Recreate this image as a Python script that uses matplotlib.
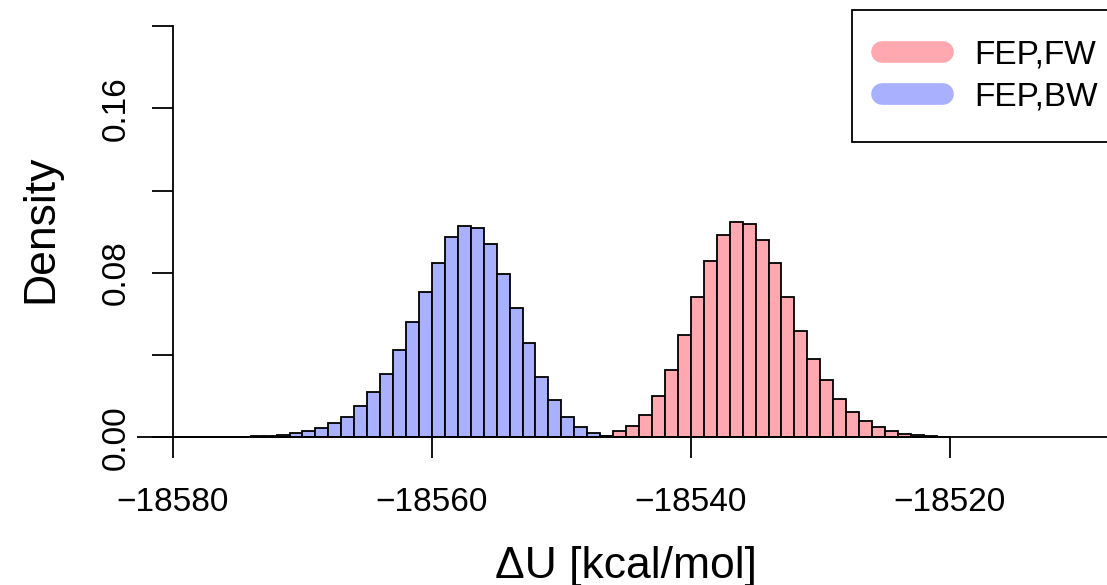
import matplotlib
matplotlib.use("Agg")
import matplotlib.pyplot as plt
from matplotlib.lines import Line2D
import numpy as np

# ---- data (histogram densities, bin width 1 kcal/mol, left bin edges) ----
bw_left = np.arange(-18575, -18545)  # 30 bins
bw_density = [0.0002, 0.0004, 0.0007, 0.0011, 0.0019, 0.0031,
              0.0047, 0.0068, 0.0100, 0.0151, 0.0220, 0.0309, 0.0426, 0.0561,
              0.0705, 0.0848, 0.0973, 0.1029, 0.1018, 0.0939, 0.0793, 0.0627,
              0.0457, 0.0292, 0.0181, 0.0100, 0.0050, 0.0020, 0.0008, 0.0003]

fw_left = np.arange(-18548, -18520)  # 28 bins
fw_density = [0.0003, 0.0008, 0.0032, 0.0056, 0.0110, 0.0201, 0.0326, 0.0496,
              0.0681, 0.0856, 0.0985, 0.1046, 0.1036, 0.0960, 0.0846, 0.0681,
              0.0517, 0.0381, 0.0277, 0.0186, 0.0122, 0.0079, 0.0049, 0.0029,
              0.0018, 0.0011, 0.0006, 0.0003]

labels = ["FEP,FW", "FEP,BW"]
x_ticks = [-18580, -18560, -18540, -18520]
y_ticks = [0.00, 0.04, 0.08, 0.12, 0.16, 0.20]
y_ticklabels = ["0.00", "", "0.08", "", "0.16", ""]

pink = "#FFA8B0"
blue = "#A9B1FF"

plt.rcParams["font.family"] = ["Liberation Sans", "DejaVu Sans"]

W, H = 1107, 585
fig = plt.figure(figsize=(W / 100, H / 100), dpi=100)
left_px, right_px, top_px, bot_px = 137, 1109, 9.6, 453.7
ax = fig.add_axes([left_px / W, (H - bot_px) / H,
                   (right_px - left_px) / W, (bot_px - top_px) / H])

LW = 1.3
ax.bar(bw_left, bw_density, width=1, align="edge", color=blue,
       edgecolor="black", linewidth=LW, zorder=2)
ax.bar(fw_left, fw_density, width=1, align="edge", color=pink,
       edgecolor="black", linewidth=LW, zorder=3)

ax.axhline(0, color="black", lw=LW, zorder=4)

ax.set_xlim(-18582.78, -18507.7)
ax.set_ylim(-0.008, 0.208)

for s in ["top", "right"]:
    ax.spines[s].set_visible(False)
ax.spines["left"].set_position(("data", -18580))
ax.spines["left"].set_bounds(0, 0.2)
ax.spines["bottom"].set_position(("data", 0))
ax.spines["bottom"].set_bounds(-18580, -18520)
for s in ["left", "bottom"]:
    ax.spines[s].set_linewidth(LW)

ax.set_xticks(x_ticks)
ax.set_xticklabels([f"\u2212{abs(v)}" for v in x_ticks])
ax.set_yticks(y_ticks)
ax.set_yticklabels(y_ticklabels, rotation=90, va="center")
ax.tick_params(axis="both", length=15, width=LW, labelsize=24, colors="black")
ax.tick_params(axis="x", pad=21)
ax.tick_params(axis="y", pad=15)

fig.text(626 / W, (H - 578) / H, "\u0394U [kcal/mol]", ha="center",
         va="baseline", fontsize=32)
fig.text(41 / W, (H - 229) / H, "Density", ha="center", va="center",
         rotation=90, fontsize=32)

handles = [Line2D([0], [0], color=pink, lw=15.6, solid_capstyle="round"),
           Line2D([0], [0], color=blue, lw=15.6, solid_capstyle="round")]
leg = ax.legend(handles, labels, loc="upper left",
                bbox_to_anchor=((852 - left_px) / (right_px - left_px), 1.0),
                borderaxespad=0, frameon=True, fancybox=False,
                edgecolor="black", framealpha=1, fontsize=24,
                handlelength=1.83, handletextpad=0.95, borderpad=0.9,
                labelspacing=0.32)
leg.get_frame().set_linewidth(LW)

fig.savefig("out.png", dpi=100)
